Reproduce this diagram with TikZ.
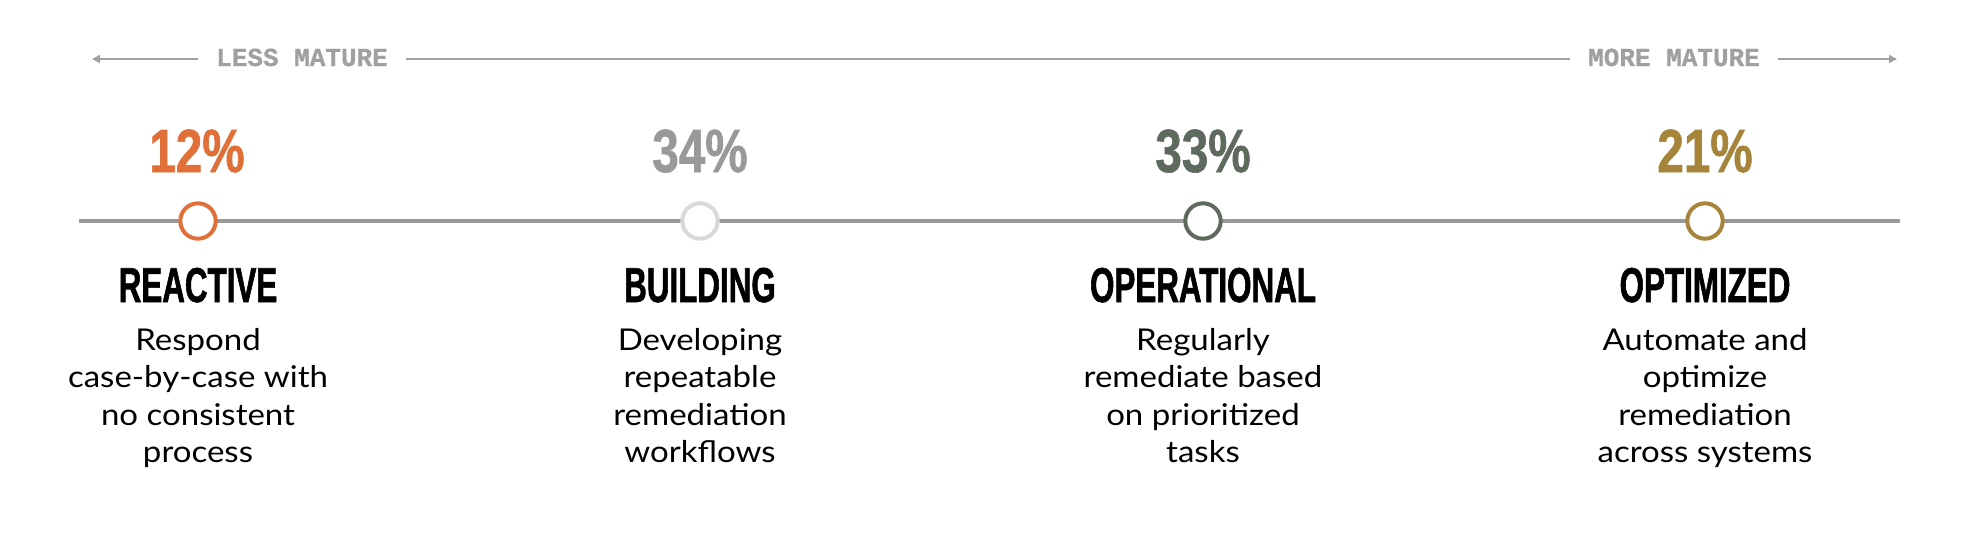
\documentclass[tikz,border=0pt]{standalone}
\usepackage{fontspec}
\usetikzlibrary{arrows.meta}

\newfontfamily\pctfont[FakeStretch=0.78,FakeBold=1]{Liberation Sans}
\newfontfamily\titlefont[FakeStretch=0.64,FakeBold=1.2]{Liberation Sans}
\newfontfamily\tagfont[FakeBold=0.8]{Liberation Mono}
\newfontfamily\descfont[FakeStretch=1.1]{Lato}

\definecolor{reactive}{HTML}{E07038}
\definecolor{building}{HTML}{999999}
\definecolor{buildring}{HTML}{D9D9D9}
\definecolor{operational}{HTML}{5F6A5F}
\definecolor{optimized}{HTML}{A6843A}
\definecolor{scalecol}{HTML}{9A9A9A}
\definecolor{tagcol}{HTML}{A0A0A0}

\begin{document}
\begin{tikzpicture}[x=1pt,y=-1pt]
	\tikzstyle{stage} = [circle,draw,fill=white,line width=4pt,minimum size=35.4pt,inner sep=0pt]
	\tikzstyle{pct} = [anchor=base,inner sep=0pt,font=\pctfont\bfseries\fontsize{61}{61}\selectfont]
	\tikzstyle{title} = [anchor=base,inner sep=0pt,font=\titlefont\bfseries\fontsize{49}{49}\selectfont]
	\tikzstyle{desc} = [anchor=north,inner sep=0pt,align=center,font=\descfont\fontsize{30}{37.5}\selectfont]
	\tikzstyle{tag} = [anchor=base,inner xsep=18pt,inner ysep=0pt,text=tagcol,font=\tagfont\bfseries\fontsize{26}{26}\selectfont]
	\tikzstyle{tagline} = [draw=tagcol,line width=1.5pt]

	\useasboundingbox (0,0) rectangle (1968,552);

	% maturity scale
	\node[tag] (less) at (302,66) {LESS MATURE};
	\node[tag] (more) at (1674,66) {MORE MATURE};
	\coordinate (lessend) at (92,59);
	\coordinate (moreend) at (1897,59);
	\draw[tagline,-{Triangle[length=8pt,width=8pt]}] (less.west |- lessend) -- (lessend);
	\draw[tagline] (less.east |- lessend) -- (more.west |- moreend);
	\draw[tagline,-{Triangle[length=8pt,width=8pt]}] (more.east |- moreend) -- (moreend);

	% timeline
	\coordinate (start) at (79,221);
	\coordinate (end) at (1900,221);
	\draw[scalecol,line width=4pt] (start) -- (end);

	\node[stage,draw=reactive] (s1) at (198,221) {};
	\node[stage,draw=buildring] (s2) at (700,221) {};
	\node[stage,draw=operational] (s3) at (1203,221) {};
	\node[stage,draw=optimized] (s4) at (1705,221) {};

	\node[pct,text=reactive] (p1) at (197,172) {12\%};
	\node[pct,text=building] (p2) at (700,172) {34\%};
	\node[pct,text=operational] (p3) at (1203,172) {33\%};
	\node[pct,text=optimized] (p4) at (1705,172) {21\%};

	\node[title] (t1) at (198,302) {REACTIVE};
	\node[title] (t2) at (700,302) {BUILDING};
	\node[title] (t3) at (1203,302) {OPERATIONAL};
	\node[title] (t4) at (1705,302) {OPTIMIZED};

	\node[desc] (d1) at (198,328) {Respond\\case-by-case with\\no consistent\\process};
	\node[desc] (d2) at (700,328) {Developing\\repeatable\\remediation\\workflows};
	\node[desc] (d3) at (1203,328) {Regularly\\remediate based\\on prioritized\\tasks};
	\node[desc] (d4) at (1705,328) {Automate and\\optimize\\remediation\\across systems};
\end{tikzpicture}
\end{document}
